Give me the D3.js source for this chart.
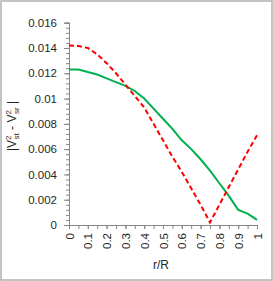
<!DOCTYPE html>
<html>
<head>
<meta charset="utf-8">
<script src="https://cdn.jsdelivr.net/npm/d3@7"></script>
<style>
  body { margin: 0; background: #fff; }
  svg text { font-family: "Liberation Sans", Arial, sans-serif; fill: #262626; }
</style>
</head>
<body>
<svg id="chart" width="273" height="281"></svg>
<script>
// r/R positions
var rR = [0, 0.05, 0.1, 0.15, 0.2, 0.25, 0.3, 0.35, 0.4, 0.45, 0.5,
          0.55, 0.6, 0.65, 0.7, 0.75, 0.8, 0.85, 0.9, 0.95, 1];
// red dashed series
var redVals = [0.0142, 0.01415, 0.0140, 0.0135, 0.0128, 0.0120, 0.0111, 0.0102, 0.0093, 0.0080, 0.0067,
               0.0054, 0.0042, 0.0029, 0.0016, 0.0002, 0.0016, 0.0030, 0.0044, 0.0058, 0.0071];
// green solid series
var greenVals = [0.0123, 0.0123, 0.0121, 0.0119, 0.0116, 0.0113, 0.0110, 0.0106, 0.0100, 0.0092, 0.0084,
                 0.0076, 0.0067, 0.0060, 0.0052, 0.0043, 0.0033, 0.0023, 0.0012, 0.0009, 0.0004];
var xTicks = [0, 0.1, 0.2, 0.3, 0.4, 0.5, 0.6, 0.7, 0.8, 0.9, 1];
var yTicks = [0, 0.002, 0.004, 0.006, 0.008, 0.01, 0.012, 0.014, 0.016];

var svg = d3.select('#chart');

// outer frame
svg.append('rect')
    .attr('x', 1).attr('y', 1)
    .attr('width', 271).attr('height', 279)
    .attr('fill', '#fff')
    .attr('stroke', '#b0b0b0')
    .attr('stroke-width', 1.5);

var xs = d3.scaleLinear().domain([0, 1]).range([69, 257]);
var ys = d3.scaleLinear().domain([0, 0.016]).range([225, 22.7]);

var axisColor = '#868686';

// minor ticks
var yMinor = d3.range(0, 0.01601, 0.0004);
var xMinor = d3.range(0, 1.0001, 0.05);

var gy = svg.append('g').attr('transform', 'translate(' + xs(0) + ',0)');
gy.call(d3.axisLeft(ys).tickValues(yMinor).tickSize(3).tickFormat(''));
gy.call(function (g) {
    g.append('g').call(d3.axisLeft(ys).tickValues(yTicks).tickSize(5)
        .tickFormat(function (d) { return d === 0 ? '0' : String(+d.toFixed(3)); }));
});
gy.selectAll('path.domain').attr('stroke', axisColor);
gy.selectAll('line').attr('stroke', axisColor);
gy.selectAll('text').attr('font-size', 11.5).attr('x', -12)
    .style('font-family', '"Liberation Sans", Arial, sans-serif').attr('fill', '#262626');

var gx = svg.append('g').attr('transform', 'translate(0,' + ys(0) + ')');
gx.call(d3.axisBottom(xs).tickValues(xMinor).tickSize(4).tickFormat(''));
gx.append('g').call(d3.axisBottom(xs).tickValues(xTicks).tickSize(4).tickFormat(function (d) { return String(d); }));
gx.selectAll('path.domain').attr('stroke', axisColor);
gx.selectAll('line').attr('stroke', axisColor);
gx.selectAll('text')
    .attr('font-size', 11.5)
    .attr('transform', 'rotate(-90)')
    .attr('text-anchor', 'end')
    .attr('x', -8).attr('y', 0).attr('dy', '0.35em')
    .style('font-family', '"Liberation Sans", Arial, sans-serif').attr('fill', '#262626');

// series lines
var line = d3.line()
    .x(function (d) { return xs(d[0]); })
    .y(function (d) { return ys(d[1]); });

svg.append('path')
    .datum(d3.zip(rR, greenVals))
    .attr('d', line)
    .attr('fill', 'none')
    .attr('stroke', '#00b050')
    .attr('stroke-width', 2);

svg.append('path')
    .datum(d3.zip(rR, redVals))
    .attr('d', line)
    .attr('fill', 'none')
    .attr('stroke', '#ff0000')
    .attr('stroke-width', 2)
    .attr('stroke-dasharray', '5,3');

// axis titles
svg.append('text')
    .attr('x', 161).attr('y', 269)
    .attr('text-anchor', 'middle')
    .attr('font-size', 12)
    .text('r/R');

var yl = svg.append('text')
    .attr('transform', 'translate(16,126) rotate(-90)')
    .attr('text-anchor', 'middle')
    .attr('font-size', 12);
yl.append('tspan').text('|V');
yl.append('tspan').attr('font-size', 8).attr('dy', -5).text('2');
yl.append('tspan').attr('font-size', 8).attr('dy', 8).attr('dx', -4).text('st');
yl.append('tspan').attr('dy', -3).text(' - V');
yl.append('tspan').attr('font-size', 8).attr('dy', -5).text('2');
yl.append('tspan').attr('font-size', 8).attr('dy', 8).attr('dx', -4).text('sr');
yl.append('tspan').attr('dy', -3).text(' |');
</script>
</body>
</html>
